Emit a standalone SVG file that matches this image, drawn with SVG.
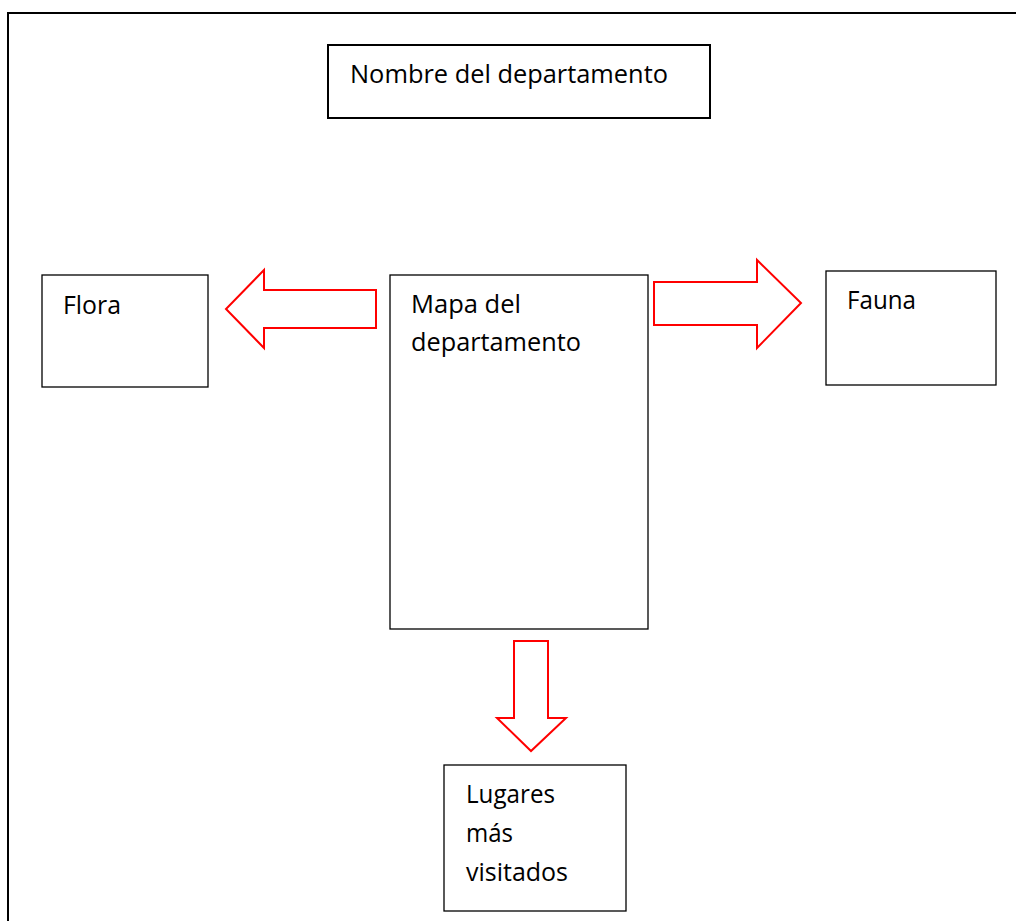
<svg xmlns="http://www.w3.org/2000/svg" width="1016" height="921" viewBox="0 0 1016 921">
<style>
.box{fill:#fff;stroke:#000;stroke-width:1.3}
.arrow{fill:#fff;stroke:#ff0000;stroke-width:2;stroke-linejoin:miter}
text{font-family:"Open Sans","Liberation Sans",sans-serif;font-size:26px;fill:#000}
</style>
<rect x="0" y="0" width="1016" height="921" fill="#fff"/>
<path d="M8 925 V13 H1020" fill="none" stroke="#000" stroke-width="2"/>
<g id="title">
<rect x="328" y="45" width="382" height="73" fill="#fff" stroke="#000" stroke-width="2"/>
<text x="350" y="83" textLength="318" lengthAdjust="spacingAndGlyphs">Nombre del departamento</text>
</g>
<g id="flora">
<rect class="box" x="42" y="275" width="166" height="112"/>
<text x="63" y="314" textLength="58" lengthAdjust="spacingAndGlyphs">Flora</text>
</g>
<g id="mapa">
<rect class="box" x="390" y="275" width="258" height="354"/>
<text x="411" y="313" textLength="110" lengthAdjust="spacingAndGlyphs">Mapa del</text>
<text x="411" y="351" textLength="170" lengthAdjust="spacingAndGlyphs">departamento</text>
</g>
<g id="fauna">
<rect class="box" x="826" y="271" width="170" height="114"/>
<text x="847" y="309" textLength="69" lengthAdjust="spacingAndGlyphs">Fauna</text>
</g>
<g id="lugares">
<rect class="box" x="444" y="765" width="182" height="146"/>
<text x="466" y="803" textLength="89" lengthAdjust="spacingAndGlyphs">Lugares</text>
<text x="466" y="842" textLength="47" lengthAdjust="spacingAndGlyphs">más</text>
<text x="466" y="881" textLength="102" lengthAdjust="spacingAndGlyphs">visitados</text>
</g>
<g id="connectors">
<polygon class="arrow" points="376,290 264,290 264,270 226,309 264,348 264,328 376,328"/>
<polygon class="arrow" points="654,282 757,282 757,260 801,303 757,348 757,325 654,325"/>
<polygon class="arrow" points="514,641 548,641 548,718 566,718 531,751 497,718 514,718"/>
</g>
</svg>
